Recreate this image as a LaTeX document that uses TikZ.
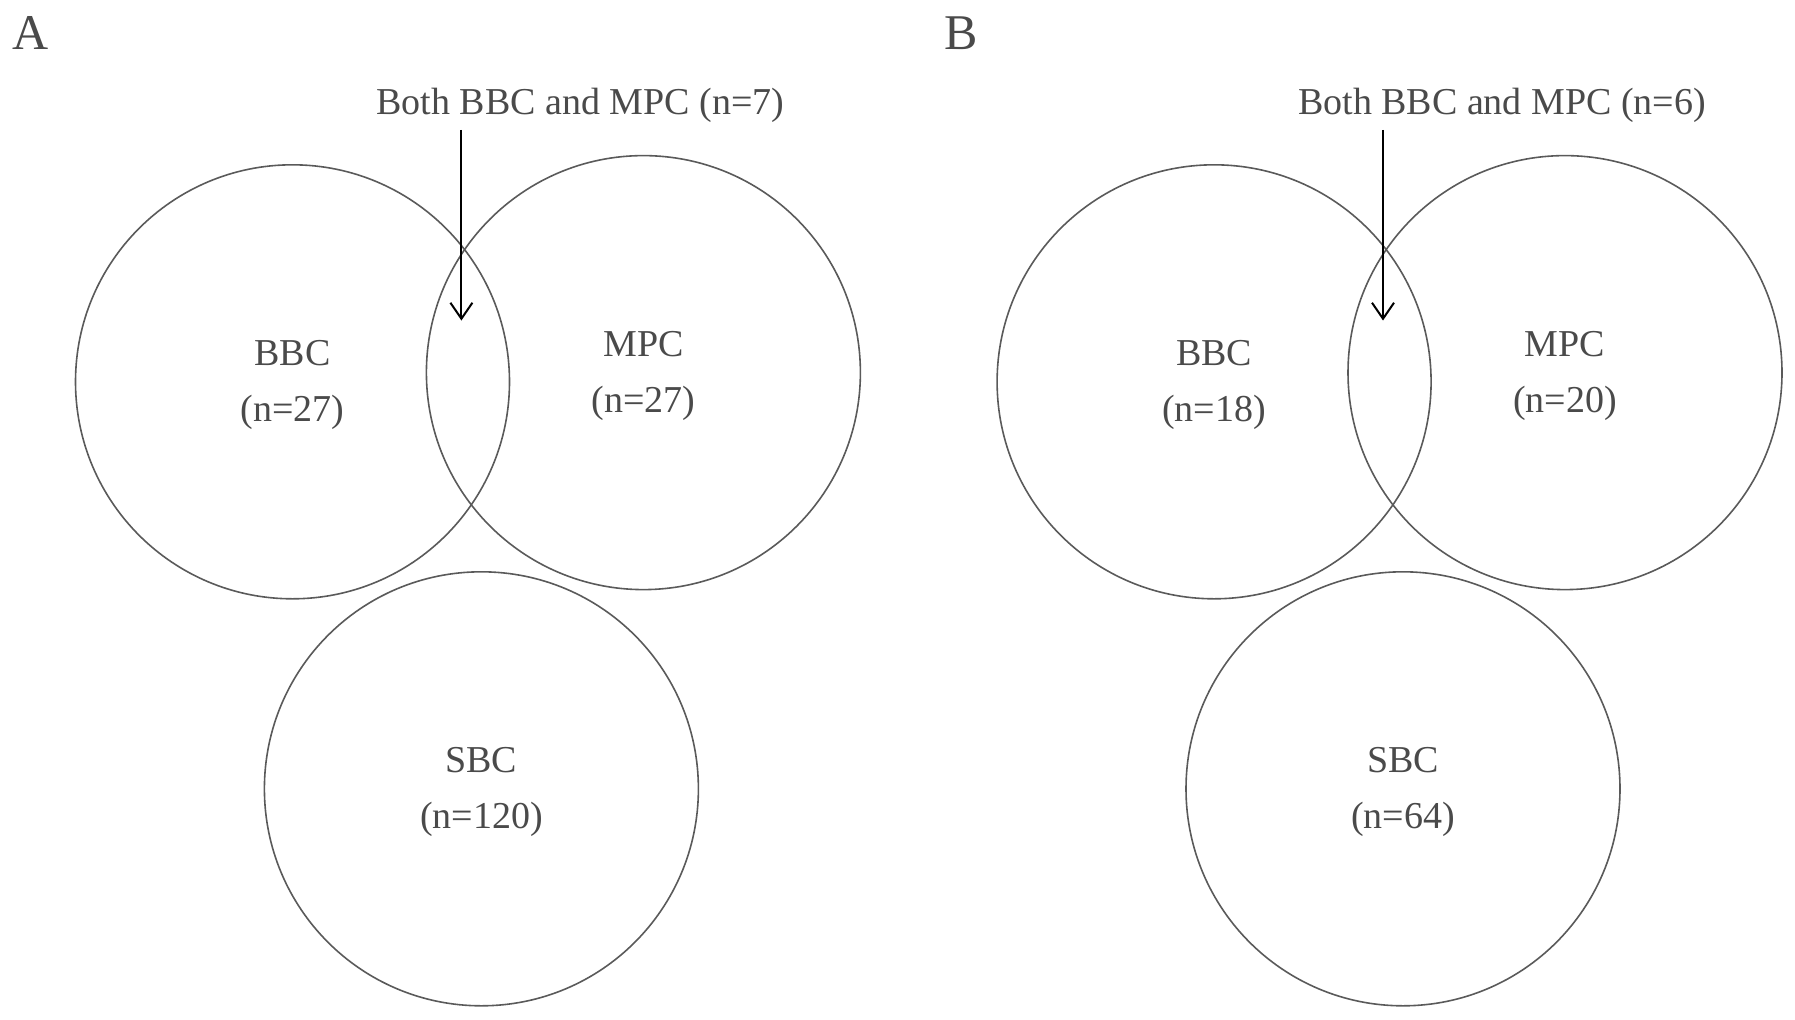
\documentclass[tikz,border=0pt]{standalone}
\usepackage{fontspec}
\setmainfont{Liberation Serif}
\usetikzlibrary{arrows.meta, positioning}
\definecolor{vennline}{HTML}{5A5A5A}
\definecolor{venntext}{HTML}{4A4A4A}

\begin{document}
\begin{tikzpicture}[
  x=0.5pt, y=-0.5pt,
  >={Straight Barb[length=8pt,width=11pt]},
  font=\fontsize{19}{28}\selectfont,
  set/.style={draw=vennline, line width=0.8pt, circle, inner sep=0pt,
              minimum size=217pt},
  count/.style={align=center, text=venntext, yshift=-1.8pt},
  panel/.style={font=\fontsize{25}{30}\selectfont, text=venntext},
  note/.style={text=venntext},
  arr/.style={line width=1pt, ->}
]
  \useasboundingbox (0,0) rectangle (1795,1019);

  % panel A
  \node[panel] (labA) at (31,33) {A};
  \node[set] (bbcA) at (292.5,381.8) {};
  \node[set] (mpcA) at (643.4,372.6) {};
  \node[set] (sbcA) at (481.4,788.8) {};
  \node[count] (bbcAn) at (bbcA) {BBC\\(n=27)};
  \node[count] (mpcAn) at (mpcA) {MPC\\(n=27)};
  \node[count] (sbcAn) at (sbcA) {SBC\\(n=120)};
  \node[note] (bothA) at (580.4,105.5) {Both BBC and MPC (n=7)};
  \coordinate (tipA) at (461.4,320.5);
  \draw[arr] (tipA |- bothA.south) -- (tipA);

  % panel B
  \begin{scope}[shift={(921.6,0)}]
    \node[panel] (labB) at (40,33) {B};
    \node[set] (bbcB) at (292.5,381.8) {};
    \node[set] (mpcB) at (643.4,372.6) {};
    \node[set] (sbcB) at (481.4,788.8) {};
    \node[count] (bbcBn) at (bbcB) {BBC\\(n=18)};
    \node[count] (mpcBn) at (mpcB) {MPC\\(n=20)};
    \node[count] (sbcBn) at (sbcB) {SBC\\(n=64)};
    \node[note] (bothB) at (580.4,105.5) {Both BBC and MPC (n=6)};
    \coordinate (tipB) at (461.4,320.5);
    \draw[arr] (tipB |- bothB.south) -- (tipB);
  \end{scope}
\end{tikzpicture}
\end{document}
